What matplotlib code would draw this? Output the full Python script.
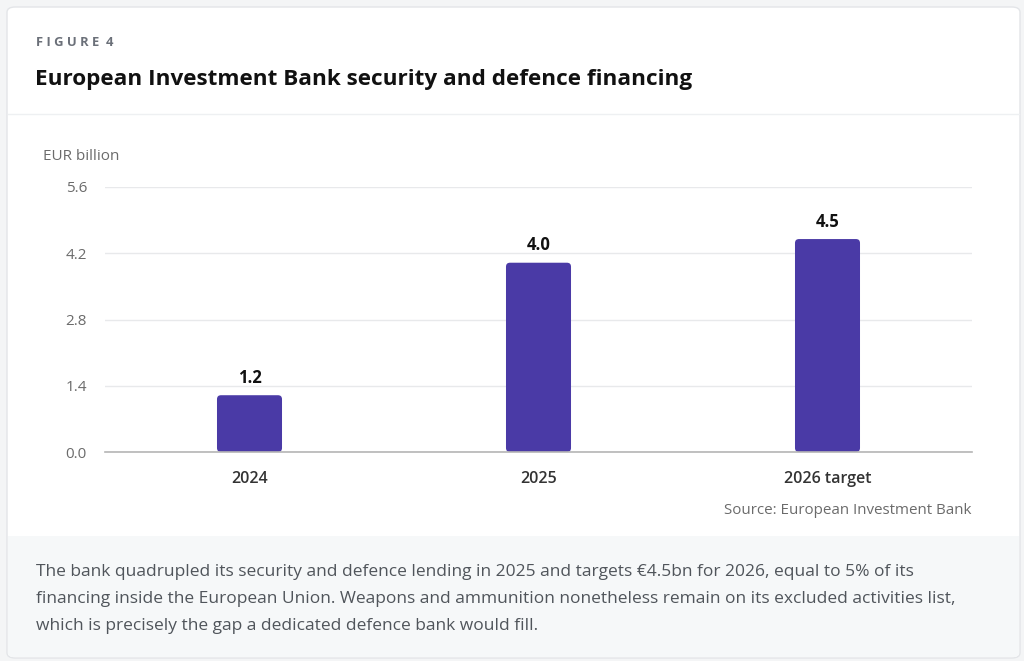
import numpy as np
import matplotlib
matplotlib.use("Agg")
import matplotlib.pyplot as plt
from matplotlib.patches import FancyBboxPatch, Rectangle

# data
categories = ["2024", "2025", "2026 target"]
values = [1.2, 4.0, 4.5]
value_labels = ["1.2", "4.0", "4.5"]
yticks = [0.0, 1.4, 2.8, 4.2, 5.6]

title = "European Investment Bank security and defence financing"
note = ("The bank quadrupled its security and defence lending in 2025 and targets \u20ac4.5bn for 2026, equal to 5% of its\n"
        "financing inside the European Union. Weapons and ammunition nonetheless remain on its excluded activities list,\n"
        "which is precisely the gap a dedicated defence bank would fill.")

plt.rcParams['font.family'] = ['Open Sans', 'DejaVu Sans']

W, H = 1024, 661
fig = plt.figure(figsize=(W/100, H/100), dpi=100)
fig.patch.set_facecolor("#f4f5f6")

def fx(px): return px / W
def fy(py): return 1 - py / H

# card
card = FancyBboxPatch((fx(7), fy(658)), fx(1020) - fx(7), fy(7) - fy(658),
                      boxstyle="round,pad=0,rounding_size=0.008",
                      transform=fig.transFigure, facecolor="white",
                      edgecolor="#e3e5e8", lw=1.0, zorder=-3)
fig.patches.append(card)
# footer band
foot = FancyBboxPatch((fx(8), fy(657)), fx(1019) - fx(8), fy(536) - fy(657),
                      boxstyle="round,pad=0,rounding_size=0.006",
                      transform=fig.transFigure, facecolor="#f6f8f9",
                      edgecolor="none", zorder=-2)
fig.patches.append(foot)
fig.patches.append(Rectangle((fx(8), fy(560)), fx(1019) - fx(8), fy(536) - fy(560),
                             transform=fig.transFigure, facecolor="#f6f8f9",
                             edgecolor="none", zorder=-2))
# header separator
fig.add_artist(plt.Line2D([fx(8), fx(1019)], [fy(114), fy(114)],
                          transform=fig.transFigure, color="#eef0f2", lw=1.0, zorder=-1))

fig.text(fx(36), fy(43), "F I G U R E  4", fontsize=9.4, fontweight="bold",
         color="#6b7079", va="center", ha="left")
fig.text(fx(35), fy(80), title, fontsize=16.2, fontweight="bold",
         color="#111111", va="center", ha="left")
fig.text(fx(43), fy(156), "EUR billion", fontsize=11, color="#6b6b6b",
         va="center", ha="left")
fig.text(fx(972), fy(510), "Source: European Investment Bank", fontsize=10.9,
         color="#6b6b6b", va="center", ha="right")
fig.text(fx(36), fy(599), note, fontsize=12.5, color="#50555b",
         va="center", ha="left", linespacing=1.88)

# axes
ax = fig.add_axes([fx(105), fy(452), fx(972) - fx(105), fy(187) - fy(452)])
ax.set_facecolor("none")
x = np.arange(len(categories))
ax.set_xlim(-0.5, len(categories) - 0.5)
ax.set_ylim(0, 5.6)

bw = 0.225
bars = ax.bar(x, values, width=bw, color="#4a3aa6")
# swap bars for rounded versions
px_x = (len(categories)) / (972 - 105)
px_y = 5.6 / (452 - 187)
r = 4 * px_x
for b in bars:
    b.set_visible(False)
    p = FancyBboxPatch((b.get_x(), b.get_y()), b.get_width(), b.get_height(),
                       boxstyle=f"round,pad=0,rounding_size={r}",
                       mutation_aspect=px_y / px_x,
                       facecolor="#4a3aa6", edgecolor="none", zorder=3)
    ax.add_patch(p)

for xi, v, lab in zip(x, values, value_labels):
    ax.annotate(lab, (xi, v), xytext=(0, 6), textcoords="offset points",
                ha="center", va="bottom", fontsize=12, fontweight="bold",
                color="#111111")

ax.set_yticks(yticks)
ax.set_yticklabels([f"{t:.1f}" for t in yticks], fontsize=11, color="#6b6b6b")
ax.set_xticks(x)
ax.set_xticklabels(categories, fontsize=11.5, fontweight="semibold", color="#333333")
ax.tick_params(axis="y", length=0, pad=13)
ax.tick_params(axis="x", length=0, pad=14)
ax.grid(axis="y", color="#e8e9eb", lw=1.0, zorder=0)
ax.set_axisbelow(True)
for s in ["top", "right", "left"]:
    ax.spines[s].set_visible(False)
ax.spines["bottom"].set_color("#b5b5b5")
ax.spines["bottom"].set_linewidth(1.2)
ax.spines["bottom"].set_zorder(4)

fig.savefig("out.png", dpi=100, facecolor=fig.get_facecolor())
